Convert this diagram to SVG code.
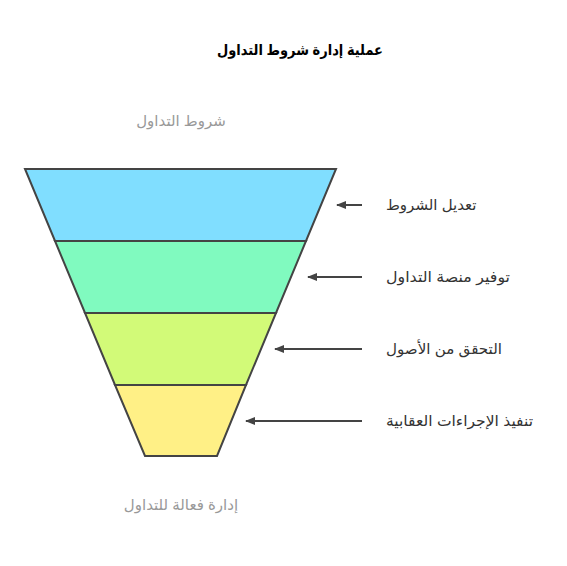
<svg xmlns="http://www.w3.org/2000/svg" width="567" height="566" viewBox="0 0 567 566">
<style>
text{font-family:"Liberation Sans","DejaVu Sans",sans-serif}
.band{stroke:#444;stroke-width:2;stroke-linejoin:miter}
.lbl{font-size:15px;fill:#333}
.gray{font-size:15px;fill:#999;text-anchor:middle}
.title{font-size:15px;font-weight:bold;fill:#000;text-anchor:middle}
.arr{stroke:#444;stroke-width:2;fill:none;marker-end:url(#ah)}
</style>
<defs>
<marker id="ah" markerWidth="10" markerHeight="8" refX="9" refY="4" orient="auto" markerUnits="userSpaceOnUse">
<path d="M0,0 L10,4 L0,8 Z" fill="#444"/>
</marker>
</defs>
<rect width="567" height="566" fill="#fff"/>
<text class="title" x="300" y="55" textLength="166" lengthAdjust="spacingAndGlyphs">عملية إدارة شروط التداول</text>
<text class="gray" x="181" y="126">شروط التداول</text>
<g id="band1"><polygon class="band" fill="#80DEFF" points="25,169 336,169 306,241 55,241"/></g>
<g id="band2"><polygon class="band" fill="#80FABF" points="55,241 306,241 276,313 85,313"/></g>
<g id="band3"><polygon class="band" fill="#D2FA78" points="85,313 276,313 246,385 115,385"/></g>
<g id="band4"><polygon class="band" fill="#FFF086" points="115,385 246,385 217,456 145,456"/></g>
<g id="connectors">
<line class="arr" x1="362" y1="205" x2="337" y2="205"/>
<line class="arr" x1="362" y1="277" x2="308" y2="277"/>
<line class="arr" x1="362" y1="349" x2="275" y2="349"/>
<line class="arr" x1="362" y1="421" x2="246" y2="421"/>
</g>
<g id="label1"><text class="lbl" x="386" y="210">تعديل الشروط</text></g>
<g id="label2"><text class="lbl" x="386" y="282" textLength="124" lengthAdjust="spacingAndGlyphs">توفير منصة التداول</text></g>
<g id="label3"><text class="lbl" x="386" y="354" textLength="116" lengthAdjust="spacingAndGlyphs">التحقق من الأصول</text></g>
<g id="label4"><text class="lbl" x="386" y="426" textLength="147" lengthAdjust="spacingAndGlyphs">تنفيذ الإجراءات العقابية</text></g>
<text class="gray" x="181" y="510">إدارة فعالة للتداول</text>
</svg>
